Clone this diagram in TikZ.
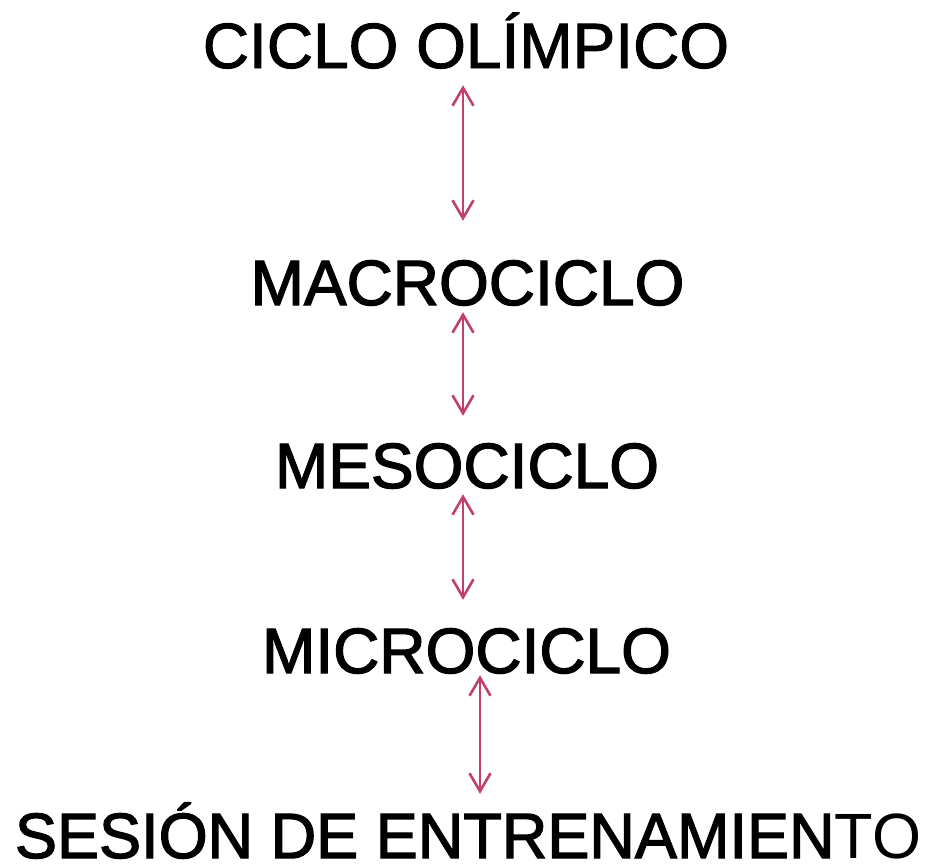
\documentclass[tikz,border=0pt]{standalone}
\usepackage{fontspec}
\setmainfont{Liberation Sans}
\newfontfamily\heavyfont[FakeBold=2]{Liberation Sans}
\newfontfamily\midfont[FakeBold=1.5]{Liberation Sans}
\usepackage{tikz}
\usetikzlibrary{arrows.meta}
\definecolor{linkpink}{HTML}{C2416B}

\begin{document}
\begin{tikzpicture}[x=1pt,y=1pt,
  level/.style={anchor=base,inner sep=0pt,text height=46pt,text depth=0pt,
    font=\fontsize{64}{77}\heavyfont},
  link/.style={{Straight Barb[length=18pt,width=21pt]}-{Straight Barb[length=18pt,width=21pt]},
    line width=2.6pt,draw=linkpink}]
\useasboundingbox (0,0) rectangle (928,-865);
%levels
\node[level,font=\fontsize{64}{77}\midfont] (ciclo) at (466,-68) {CICLO OLÍMPICO};
\node[level] (macro) at (467.5,-305) {MACROCICLO};
\node[level] (meso) at (467,-488) {MESOCICLO};
\node[level] (micro) at (466.5,-673) {MICROCICLO};
\node[level] (sesion) at (468,-858) {\scalebox{0.985}[1]{SESIÓN DE ENTRENAMIEN{\fontsize{64}{77}\selectfont\rmfamily TO}}};
%double arrows
\draw[link] ([xshift=-3pt,yshift=-17pt]ciclo.south) -- ([xshift=-4.5pt,yshift=38pt]macro.north);
\draw[link] ([xshift=-4.5pt,yshift=-7pt]macro.south) -- ([xshift=-4pt,yshift=26pt]meso.north);
\draw[link] ([xshift=-4pt,yshift=-6pt]meso.south) -- ([xshift=-3.5pt,yshift=27pt]micro.north);
\draw[link] ([xshift=13.5pt,yshift=-2pt]micro.south) -- ([xshift=12pt,yshift=18pt]sesion.north);
\end{tikzpicture}
\end{document}
